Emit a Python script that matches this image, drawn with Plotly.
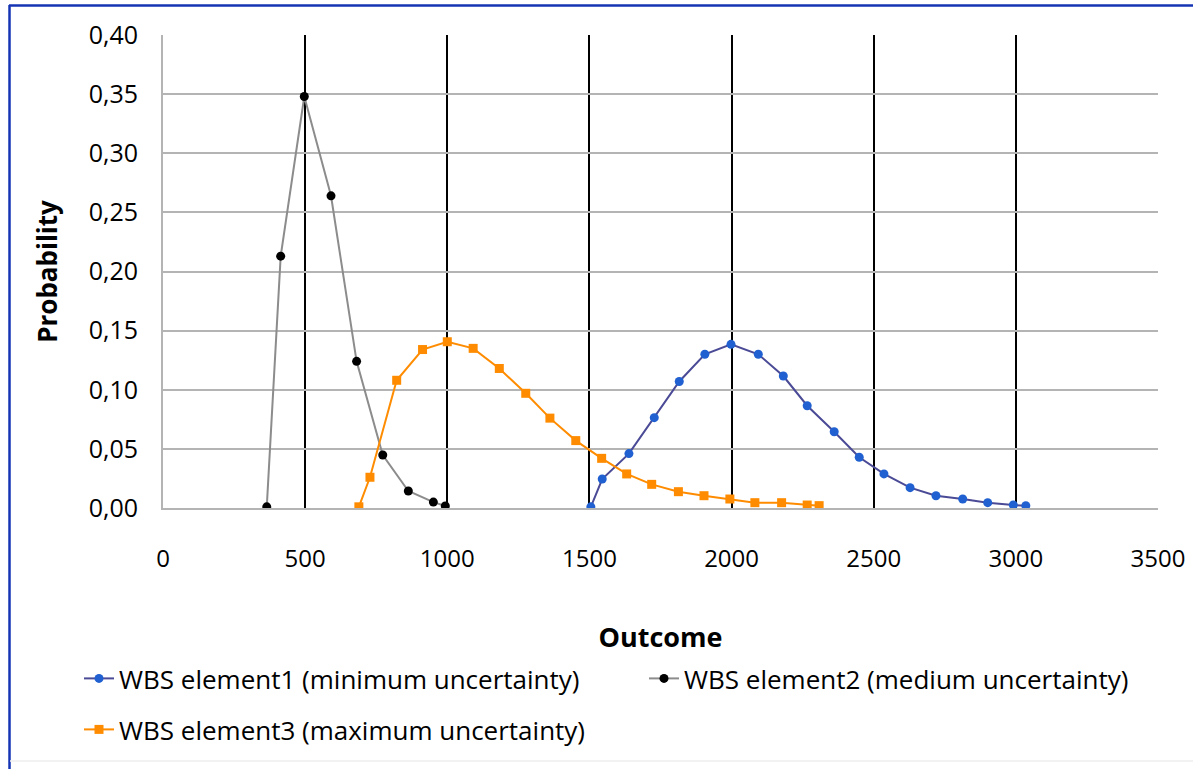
import plotly.graph_objects as go

# ---- data ----
s1_name = "WBS element1 (minimum uncertainty)"
s1_x = [1505, 1545, 1639, 1728, 1816, 1906, 1998, 2094, 2182, 2266, 2361, 2449, 2536, 2628, 2719, 2813, 2901, 2991, 3035]
s1_y = [0.001, 0.0245, 0.046, 0.0764, 0.107, 0.130, 0.1384, 0.130, 0.1116, 0.0865, 0.0645, 0.0429, 0.0288, 0.0172, 0.0104, 0.0076, 0.0045, 0.0025, 0.002]

s2_name = "WBS element2 (medium uncertainty)"
s2_x = [365, 414, 497, 591, 681, 773, 863, 951, 993]
s2_y = [0.001, 0.213, 0.348, 0.264, 0.124, 0.0448, 0.0144, 0.005, 0.0017]

s3_name = "WBS element3 (maximum uncertainty)"
s3_x = [689, 728, 822, 913, 1000, 1091, 1183, 1276, 1361, 1452, 1543, 1631, 1719, 1813, 1903, 1994, 2082, 2176, 2266, 2308]
s3_y = [0.001, 0.026, 0.108, 0.134, 0.1406, 0.135, 0.118, 0.097, 0.076, 0.057, 0.042, 0.0288, 0.020, 0.0138, 0.0104, 0.0076, 0.0045, 0.0045, 0.0025, 0.002]

x_ticks = [0, 500, 1000, 1500, 2000, 2500, 3000, 3500]
y_ticks = [0.00, 0.05, 0.10, 0.15, 0.20, 0.25, 0.30, 0.35, 0.40]

FONT = "Open Sans"
W, H = 1193, 769
L, R, T, B = 163, 35, 35, 261

fig = go.Figure()
fig.add_trace(go.Scatter(x=s1_x, y=s1_y, name=s1_name, mode="lines+markers",
                         line=dict(color="#4a4a96", width=2),
                         marker=dict(color="#2060d0", size=9, symbol="circle"),
                         legend="legend"))
fig.add_trace(go.Scatter(x=s2_x, y=s2_y, name=s2_name, mode="lines+markers",
                         line=dict(color="#8c8c8c", width=2),
                         marker=dict(color="#000000", size=9, symbol="circle"),
                         legend="legend2"))
fig.add_trace(go.Scatter(x=s3_x, y=s3_y, name=s3_name, mode="lines+markers",
                         line=dict(color="#ff8c00", width=2),
                         marker=dict(color="#ff8c00", size=9, symbol="square"),
                         legend="legend3"))

pw = W - L - R
ph = H - T - B
def px2paper_x(p):
    return (p - L) / pw
def px2paper_y(p):
    return (H - B - p) / ph

leg_common = dict(orientation="h", xref="container", yref="container",
                  xanchor="left", yanchor="top",
                  font=dict(family=FONT, size=26), bgcolor="rgba(0,0,0,0)")

fig.update_layout(
    width=W, height=H,
    margin=dict(l=L, r=R, t=T, b=B, autoexpand=False),
    paper_bgcolor="white", plot_bgcolor="white",
    separators=", ",
    font=dict(family=FONT, size=24, color="#000000"),
    xaxis=dict(range=[0, 3500], tickvals=x_ticks, ticktext=[str(v) for v in x_ticks],
               showgrid=True, gridcolor="#000000", gridwidth=2,
               zeroline=False, showline=True, linecolor="#b4b4b4", linewidth=2,
               ticks="", ticklabelstandoff=28,
               tickfont=dict(family=FONT, size=24),
               title=dict(text="<b>Outcome</b>", font=dict(family=FONT, size=27), standoff=62)),
    yaxis=dict(range=[0, 0.40], tickvals=y_ticks, tickformat=".2f",
               showgrid=True, gridcolor="#b4b4b4", gridwidth=2,
               zeroline=False, showline=True, linecolor="#b4b4b4", linewidth=2,
               ticks="", ticklabelstandoff=18,
               tickfont=dict(family=FONT, size=25),
               title=dict(text="<b>Probability</b>", font=dict(family=FONT, size=26), standoff=24)),
    legend=dict(x=79 / W, y=1 - 655 / H, **leg_common),
    legend2=dict(x=644 / W, y=1 - 655 / H, **leg_common),
    legend3=dict(x=79 / W, y=1 - 706 / H, **leg_common),
    showlegend=True,
)

# outer chart border (blue on left and top, faint at bottom)
fig.add_shape(type="line", xref="paper", yref="paper",
              x0=px2paper_x(9.5), x1=px2paper_x(9.5), y0=px2paper_y(5), y1=px2paper_y(769),
              line=dict(color="#1434b4", width=2.5))
fig.add_shape(type="line", xref="paper", yref="paper",
              x0=px2paper_x(9), x1=px2paper_x(1193), y0=px2paper_y(5.5), y1=px2paper_y(5.5),
              line=dict(color="#1434b4", width=2.5))
fig.add_shape(type="line", xref="paper", yref="paper",
              x0=px2paper_x(10), x1=px2paper_x(1193), y0=px2paper_y(761), y1=px2paper_y(761),
              line=dict(color="#eeeeee", width=1.5))

fig.write_html("out.html")
